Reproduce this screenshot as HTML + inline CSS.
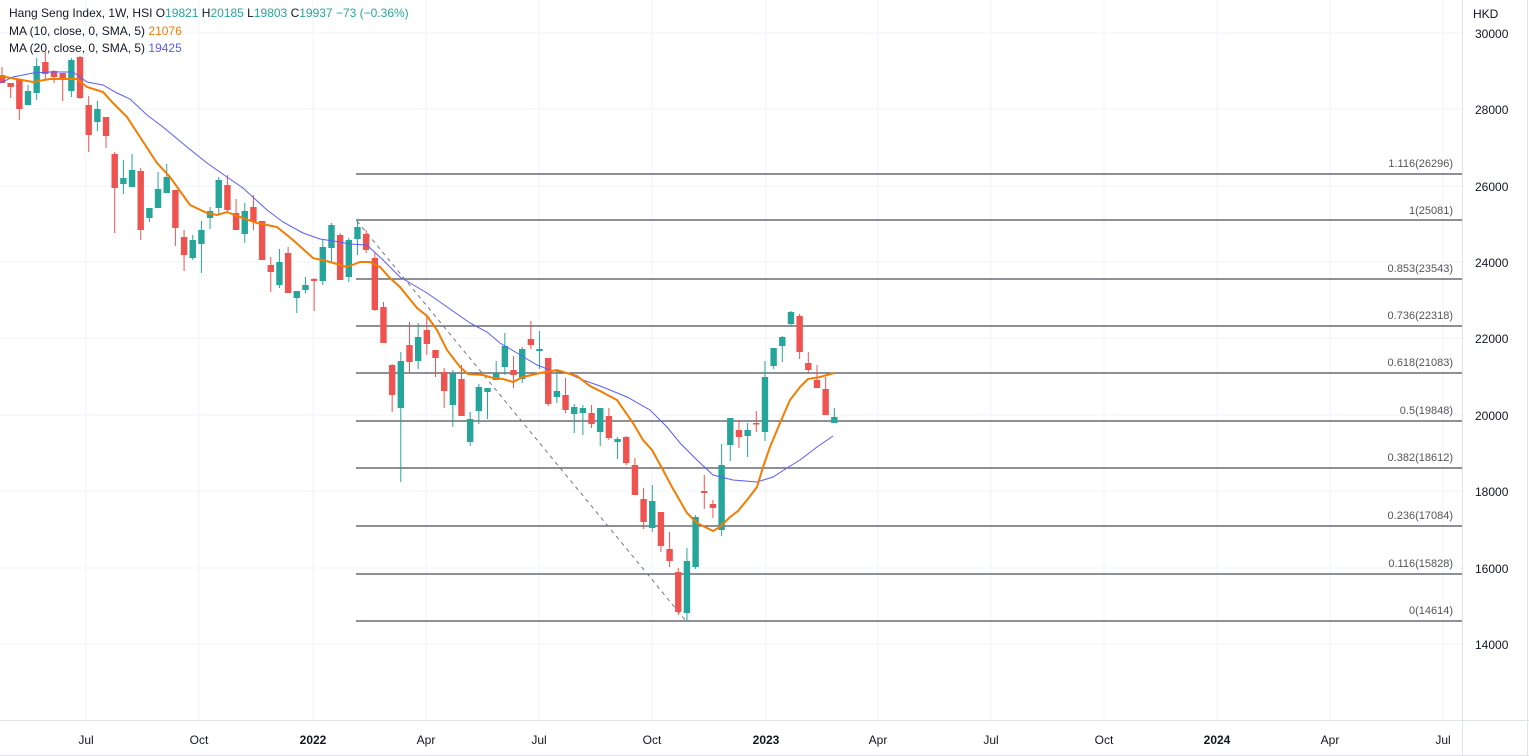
<!DOCTYPE html>
<html><head><meta charset="utf-8">
<style>
html,body{margin:0;padding:0;background:#fff;}
body{width:1529px;height:756px;overflow:hidden;font-family:"Liberation Sans",sans-serif;}
svg{display:block}
</style></head><body>
<svg id="c" width="1529" height="756" xmlns="http://www.w3.org/2000/svg" font-family="Liberation Sans, sans-serif">
<g stroke="#f0f3fa" stroke-width="1">
<line x1="86" y1="0" x2="86" y2="720"/><line x1="199" y1="0" x2="199" y2="720"/><line x1="313" y1="0" x2="313" y2="720"/>
<line x1="426" y1="0" x2="426" y2="720"/><line x1="539" y1="0" x2="539" y2="720"/><line x1="652" y1="0" x2="652" y2="720"/>
<line x1="766" y1="0" x2="766" y2="720"/><line x1="878" y1="0" x2="878" y2="720"/><line x1="991" y1="0" x2="991" y2="720"/>
<line x1="1104" y1="0" x2="1104" y2="720"/><line x1="1217" y1="0" x2="1217" y2="720"/><line x1="1330" y1="0" x2="1330" y2="720"/>
<line x1="1443" y1="0" x2="1443" y2="720"/>
<line x1="0" y1="33" x2="1462" y2="33"/><line x1="0" y1="109" x2="1462" y2="109"/><line x1="0" y1="186" x2="1462" y2="186"/>
<line x1="0" y1="262" x2="1462" y2="262"/><line x1="0" y1="338" x2="1462" y2="338"/><line x1="0" y1="415" x2="1462" y2="415"/>
<line x1="0" y1="491" x2="1462" y2="491"/><line x1="0" y1="568" x2="1462" y2="568"/><line x1="0" y1="644" x2="1462" y2="644"/>
</g>
<g stroke="#e0e3eb" stroke-width="1">
<line x1="1462.5" y1="0" x2="1462.5" y2="756"/>
<line x1="0" y1="720.5" x2="1529" y2="720.5"/>
<line x1="0" y1="755.5" x2="1529" y2="755.5"/>
<line x1="1527.5" y1="0" x2="1527.5" y2="756"/>
</g>
<g stroke="#4a4d57" stroke-width="1.2">
<line x1="356" y1="174" x2="1462" y2="174"/><line x1="356" y1="220" x2="1462" y2="220"/><line x1="356" y1="279" x2="1462" y2="279"/>
<line x1="356" y1="326" x2="1462" y2="326"/><line x1="356" y1="373" x2="1462" y2="373"/><line x1="356" y1="421" x2="1462" y2="421"/>
<line x1="356" y1="468" x2="1462" y2="468"/><line x1="356" y1="526" x2="1462" y2="526"/><line x1="356" y1="574" x2="1462" y2="574"/>
<line x1="356" y1="621" x2="1462" y2="621"/>
</g>
<g font-size="11" fill="#555" text-anchor="end">
<text x="1453" y="167">1.116(26296)</text><text x="1453" y="214">1(25081)</text><text x="1453" y="272">0.853(23543)</text>
<text x="1453" y="319">0.736(22318)</text><text x="1453" y="366">0.618(21083)</text><text x="1453" y="414">0.5(19848)</text>
<text x="1453" y="461">0.382(18612)</text><text x="1453" y="519">0.236(17084)</text><text x="1453" y="567">0.116(15828)</text>
<text x="1453" y="614">0(14614)</text>
</g>
<line x1="357" y1="221" x2="686" y2="621" stroke="#777" stroke-width="1" stroke-dasharray="4,4"/>
<g id="candles"></g>
<polyline fill="none" stroke="#5b5bff" stroke-width="1" points="0,83 13,77 33,73 50,72 73,72 87,82 103,85 117,93 130,99 147,115 163,127 187,147 207,163 227,177 243,188 267,210 283,222 303,233 320,239 340,242 350,244 367,245 383,260 400,277 427,293 450,309 470,323 487,332 500,343 517,353 537,365 550,370 567,373 583,380 600,386 610,390 627,397 650,410 667,427 680,443 697,460 713,475 733,480 757,482 773,477 787,468 800,460 817,447 833,436"/>
<polyline fill="none" stroke="#f57c00" stroke-width="2" points="0,76 33,82 50,79 77,79 87,87 103,92 113,103 127,117 140,137 157,163 170,177 190,205 207,213 217,215 227,212 240,217 257,223 277,227 293,240 313,258 330,262 347,267 360,262 370,262 380,267 390,278 400,287 417,308 427,316 437,330 447,350 460,367 468,374 483,375 493,378 503,379 513,382 523,377 540,373 557,370 577,376 590,386 600,391 617,400 633,423 643,440 652,450 663,470 672,487 687,513 697,523 713,531 720,527 730,517 738,511 747,500 757,487 763,467 770,447 780,423 790,400 800,387 808,379 820,377 834,373"/>
<g font-size="12" fill="#131722">
<text x="1473" y="18">HKD</text>
</g>
<g font-size="12" fill="#131722" text-anchor="start">
<text x="1475" y="38">30000</text><text x="1475" y="114">28000</text><text x="1475" y="191">26000</text>
<text x="1475" y="267">24000</text><text x="1475" y="343">22000</text><text x="1475" y="420">20000</text>
<text x="1475" y="496">18000</text><text x="1475" y="573">16000</text><text x="1475" y="649">14000</text>
</g>
<g font-size="12" fill="#131722" text-anchor="middle">
<text x="86" y="744">Jul</text><text x="199" y="744">Oct</text><text x="313" y="744" font-weight="bold">2022</text>
<text x="426" y="744">Apr</text><text x="539" y="744">Jul</text><text x="652" y="744">Oct</text>
<text x="766" y="744" font-weight="bold">2023</text><text x="878" y="744">Apr</text><text x="991" y="744">Jul</text>
<text x="1104" y="744">Oct</text><text x="1217" y="744" font-weight="bold">2024</text><text x="1330" y="744">Apr</text>
<text x="1443" y="744">Jul</text>
</g>
<g font-size="12">
<text x="9" y="17" fill="#131722">Hang Seng Index, 1W, HSI <tspan fill="#26a69a"><tspan fill="#131722">O</tspan>19821 <tspan fill="#131722">H</tspan>20185 <tspan fill="#131722">L</tspan>19803 <tspan fill="#131722">C</tspan>19937 −73 (−0.36%)</tspan></text>
<text x="9" y="35" fill="#131722">MA (10, close, 0, SMA, 5) <tspan fill="#f57c00">21076</tspan></text>
<text x="9" y="52" fill="#131722">MA (20, close, 0, SMA, 5) <tspan fill="#5b5bff">19425</tspan></text>
</g>
</svg>
<script>
var d=[
["r",75,83,67,83],["r",83,87,83,98],["r",79,109,79,120],["g",91,105,85,105],["g",66,93,58,100],["r",62,74,52,79],["r",71,77,70,83],["r",73,78,73,101],["g",60,91,58,97],["r",57,98,56,99],
["r",105,135,96,152],["g",109,122,101,131],["r",117,136,117,148],["r",154,188,152,233],["g",178,184,160,194],["g",170,187,154,187],["r",171,230,168,240],["g",208,218,208,222],["g",189,208,172,208],["g",177,193,164,193],
["r",190,228,190,246],["r",237,255,230,271],["g",240,258,235,260],["g",230,244,221,273],["g",211,218,207,229],["g",180,208,177,215],["r",185,210,175,212],["r",213,230,199,230],["g",211,234,203,243],["r",207,222,195,230],
["r",221,260,221,260],["r",265,272,257,292],["g",262,285,249,288],["r",253,293,247,293],["g",291,298,291,313],["g",285,290,277,293],["r",279,281,278,311],["g",247,281,240,285],["g",225,248,223,263],["r",235,280,233,280],
["g",240,277,238,282],["g",227,239,220,255],["r",234,250,230,253],["r",258,310,253,311],["r",307,343,302,343],["r",365,395,364,412],["g",361,408,352,482],["r",345,362,322,373],["g",337,361,323,369],["r",330,344,317,355],
["r",350,358,350,377],["r",372,391,368,408],["g",373,405,370,427],["r",379,416,365,416],["g",419,442,412,446],["g",387,411,384,424],["g",388,392,388,419],["g",373,380,361,380],["g",346,367,333,375],["r",370,375,356,388],
["g",349,379,347,383],["r",339,345,321,349],["g",349,351,331,369],["r",358,404,358,406],["g",391,397,371,403],["r",395,410,378,413],["g",407,414,404,433],["g",408,413,405,435],["r",413,424,405,428],["g",408,432,408,446],
["r",416,438,408,440],["g",439,442,437,459],["r",437,463,436,465],["r",465,495,458,495],["r",499,522,488,529],["g",501,528,485,532],["r",512,546,512,552],["r",549,561,532,567],["r",572,612,568,615],["g",561,613,548,621],
["g",517,567,515,569],["r",491,493,475,509],["r",504,508,500,518],["g",465,530,444,536],["g",418,445,418,461],["r",430,437,420,448],["g",430,436,423,457],["r",423,424,411,432],["g",377,432,361,441],["g",348,366,348,369],
["g",337,346,336,362],["g",312,324,311,326],["r",316,352,314,359],["r",363,370,352,373],["r",380,388,365,388],["r",389,415,377,415],["g",417,423,408,423]];
var s="";
for(var i=0;i<d.length;i++){var c=d[i],x=2+i*8.67,col=c[0]=="g"?"#26a69a":"#ef5350";
s+='<line x1="'+x+'" y1="'+c[3]+'" x2="'+x+'" y2="'+c[4]+'" stroke="'+col+'" stroke-width="1"/>';
var h=Math.max(c[2]-c[1],1.5);
s+='<rect x="'+(x-3.2)+'" y="'+c[1]+'" width="6.4" height="'+h+'" fill="'+col+'"/>';}
document.getElementById("candles").innerHTML=s;
</script>
</body></html>
